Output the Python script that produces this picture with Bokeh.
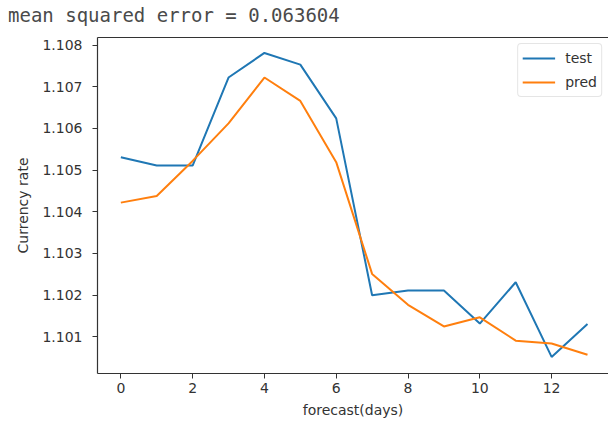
from bokeh.plotting import figure
from bokeh.models import LinearAxis, FixedTicker, Range1d, Legend, LegendItem, NumeralTickFormatter, Div
from bokeh.layouts import column
from bokeh.embed import file_html
from bokeh.resources import INLINE

days = list(range(14))
test = [1.10531, 1.10511, 1.10511, 1.10722, 1.10781, 1.10753, 1.10624,
        1.10200, 1.10211, 1.10211, 1.10132, 1.10231, 1.10052, 1.10131]
pred = [1.10422, 1.10438, 1.10522, 1.10612, 1.10722, 1.10666, 1.10519,
        1.10251, 1.10177, 1.10125, 1.10147, 1.10091, 1.10084, 1.10057]
x_ticks = [0, 2, 4, 6, 8, 10, 12]
y_ticks = [1.101, 1.102, 1.103, 1.104, 1.105, 1.106, 1.107, 1.108]
title_text = "mean squared error = 0.063604"

header = Div(text=title_text, width=600, height=30, margin=(0, 0, 0, 8),
             styles={"font-family": "DejaVu Sans Mono", "font-size": "19px",
                     "color": "#4a4a4a", "line-height": "30px", "white-space": "nowrap"})

p = figure(width=608, height=395, output_backend="svg", toolbar_location=None,
           x_range=Range1d(-0.65, 13.585), y_range=Range1d(1.100122, 1.10818),
           min_border_left=97, min_border_right=0, min_border_top=7, min_border_bottom=52)

p.outline_line_color = None
p.xgrid.visible = False
p.ygrid.visible = False

r1 = p.line(days, test, line_color="#1f77b4", line_width=2)
r2 = p.line(days, pred, line_color="#ff7f0e", line_width=2)

for ax in (p.xaxis[0], p.yaxis[0]):
    ax.axis_line_color = "#333333"
    ax.axis_line_width = 1.2
    ax.major_tick_line_color = "#333333"
    ax.major_tick_out = 5
    ax.major_tick_in = 0
    ax.minor_tick_line_color = None
    ax.major_label_text_font = "DejaVu Sans"
    ax.major_label_text_font_size = "14px"
    ax.major_label_text_color = "#333333"
    ax.axis_label_text_font = "DejaVu Sans"
    ax.axis_label_text_font_size = "14px"
    ax.axis_label_text_font_style = "normal"
    ax.axis_label_text_color = "#333333"

p.xaxis[0].ticker = FixedTicker(ticks=x_ticks)
p.yaxis[0].ticker = FixedTicker(ticks=y_ticks)
p.yaxis[0].formatter = NumeralTickFormatter(format="0.000")
p.xaxis[0].axis_label = "forecast(days)"
p.yaxis[0].axis_label = "Currency rate"
p.xaxis[0].major_label_standoff = 4
p.yaxis[0].major_label_standoff = 10
p.xaxis[0].axis_label_standoff = 6
p.yaxis[0].axis_label_standoff = 8

top = LinearAxis(ticker=FixedTicker(ticks=[]), major_label_text_font_size="0px",
                 major_label_standoff=0, axis_label_standoff=0,
                 major_tick_out=0, major_tick_in=0,
                 axis_line_color="#333333", axis_line_width=1.2,
                 major_tick_line_color=None, minor_tick_line_color=None)
p.add_layout(top, "above")

legend = Legend(items=[LegendItem(label="test", renderers=[r1]),
                       LegendItem(label="pred", renderers=[r2])],
                location="top_right")
legend.margin = 6
legend.padding = 4
legend.spacing = 4
legend.glyph_width = 33
legend.label_standoff = 10
legend.label_text_font = "DejaVu Sans"
legend.label_text_font_size = "14px"
legend.label_text_color = "#333333"
legend.border_line_color = "#cccccc"
legend.border_radius = 4
legend.background_fill_alpha = 0.8
p.add_layout(legend)

layout = column(header, p, spacing=0)
open("out.html", "w").write(file_html(layout, INLINE))
